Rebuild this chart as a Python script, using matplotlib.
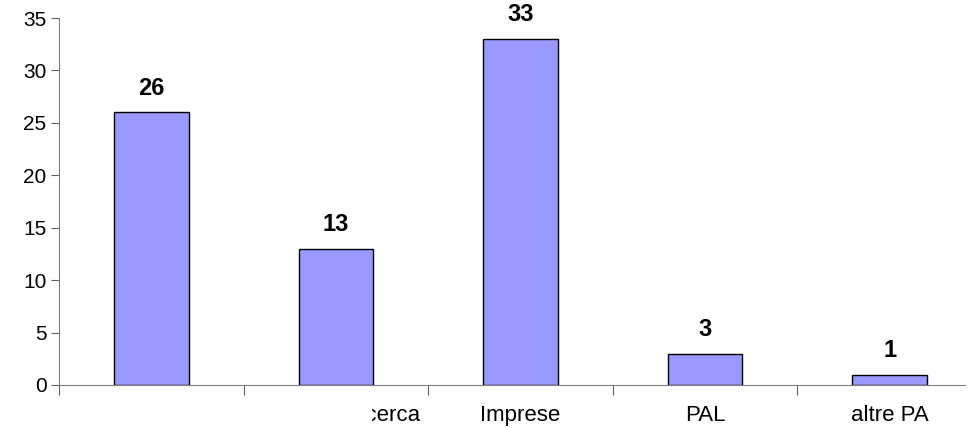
import matplotlib
matplotlib.use("Agg")
import matplotlib.pyplot as plt
import matplotlib.transforms as mtransforms
from matplotlib.patches import Rectangle
import numpy as np

categories = ["", "ricerca", "Imprese", "PAL", "altre PA"]
values = [26, 13, 33, 3, 1]

plt.rcParams['font.family'] = ['Liberation Sans', 'DejaVu Sans']

W, H = 971, 428
fig = plt.figure(figsize=(W/100, H/100), dpi=100)
cat_px = 184.6
left_px, right_px, top_px, bot_px = 59, 965, 18, 385
ax = fig.add_axes([left_px/W, 1-bot_px/H, (right_px-left_px)/W, (bot_px-top_px)/H])

x = np.arange(len(categories))
ax.bar(x, values, width=0.405, color="#9999FF", edgecolor="black", linewidth=1.0)
for xi, v in zip(x, values):
    ax.annotate(str(v), (xi, v), xytext=(0, 9), textcoords="offset points",
                ha="center", va="bottom", fontsize=17, fontweight="bold")

ax.set_xlim(-0.5, -0.5 + (right_px - left_px) / cat_px)
ax.set_ylim(0, 35)
ax.set_yticks(range(0, 36, 5))
ax.tick_params(axis="y", labelsize=15, length=6, direction="out", color="#606060", pad=3)
ax.set_xticks(np.arange(-0.5, len(categories) - 0.5, 1.0))
ax.set_xticklabels([])
ax.tick_params(axis="x", length=7, direction="out", color="#606060")

trans = mtransforms.blended_transform_factory(ax.transData, ax.transAxes)
ylab = -0.083
for xi, lab in zip(x, categories):
    if not lab:
        continue
    if xi == 1:
        # label truncated on its left side, as in the reference
        xr = (421 - left_px) / cat_px - 0.5
        t = ax.text(xr, ylab, lab, transform=trans, ha="right", va="center", fontsize=16)
        clip = Rectangle((372/W, 0), 1, 1, transform=fig.transFigure, facecolor="none")
        t.set_clip_path(clip)
        t.set_clip_on(True)
    else:
        ax.text(xi, ylab, lab, transform=trans, ha="center", va="center", fontsize=16)

for s in ["top", "right"]:
    ax.spines[s].set_visible(False)
ax.spines["left"].set_color("#808080")
ax.spines["bottom"].set_color("#808080")

fig.savefig("out.png", dpi=100)
